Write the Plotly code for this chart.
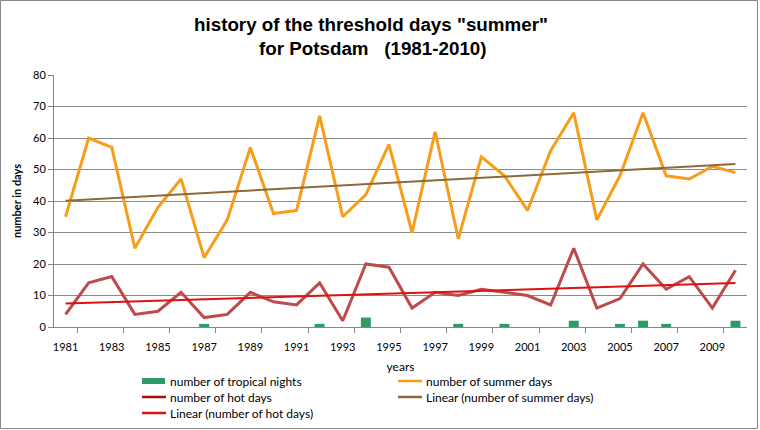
import numpy as np
import plotly.graph_objects as go

years = list(range(1981, 2011))
summer_days = [35, 60, 57, 25, 38, 47, 22, 34, 57, 36, 37, 67, 35, 42, 58,
               30, 62, 28, 54, 48, 37, 56, 68, 34, 48, 68, 48, 47, 51, 49]
hot_days = [4, 14, 16, 4, 5, 11, 3, 4, 11, 8, 7, 14, 2, 20, 19,
            6, 11, 10, 12, 11, 10, 7, 25, 6, 9, 20, 12, 16, 6, 18]
tropical_nights = [0, 0, 0, 0, 0, 0, 1, 0, 0, 0, 0, 1, 0, 3, 0,
                   0, 0, 1, 0, 1, 0, 0, 2, 0, 1, 2, 1, 0, 0, 2]
x_tick_labels = [str(y) for y in range(1981, 2011, 2)]
y_ticks = list(range(0, 81, 10))
legend_names = ["number of tropical nights", "number of summer days", "number of hot days",
                "Linear (number of summer days)", "Linear (number of hot days)"]

x = np.array(years, dtype=float)
s_fit = np.polyval(np.polyfit(x, summer_days, 1), x)
h_fit = np.polyval(np.polyfit(x, hot_days, 1), x)

tick_font = dict(family="Lato", size=11, color="#000000")
GREEN = "#2E9A66"
ORANGE = "#F79D1A"
HOT = "#BE4A4C"
LSUM = "#8C6A3A"
LHOT = "#DD1111"

fig = go.Figure()
fig.add_trace(go.Bar(x=years, y=tropical_nights, name=legend_names[0],
                     marker=dict(color=GREEN, line=dict(width=0)), width=0.43))
fig.add_trace(go.Scatter(x=years, y=summer_days, name=legend_names[1], mode="lines",
                         line=dict(color=ORANGE, width=3)))
fig.add_trace(go.Scatter(x=years, y=hot_days, name=legend_names[2], mode="lines",
                         line=dict(color=HOT, width=3)))
fig.add_trace(go.Scatter(x=years, y=s_fit, name=legend_names[3], mode="lines",
                         line=dict(color=LSUM, width=2)))
fig.add_trace(go.Scatter(x=years, y=h_fit, name=legend_names[4], mode="lines",
                         line=dict(color=LHOT, width=2)))

L, R, T, B = 54, 13, 75, 103
W, H = 760, 430
pw, ph = W - L - R, H - T - B

def px_x(p):
    return (p - L) / pw

def px_y(p):
    return (H - B - p) / ph

title_font = dict(family="Liberation Sans", size=18.8, color="#000000", weight="bold")
legend_font = dict(family="Lato", size=12, color="#000000")

annotations = [
    dict(text="history of the threshold days \"summer\"", xref="paper", yref="paper",
         x=px_x(371), y=px_y(24), xanchor="center", yanchor="middle", showarrow=False,
         font=title_font),
    dict(text="for Potsdam   (1981-2010)", xref="paper", yref="paper",
         x=px_x(373), y=px_y(49), xanchor="center", yanchor="middle", showarrow=False,
         font=title_font),
]
shapes = [dict(type="rect", xref="paper", yref="paper",
               x0=px_x(0.5), x1=px_x(757.5), y0=px_y(428.5), y1=px_y(0.5),
               line=dict(color="#868686", width=1), layer="below")]

# manual legend (two columns)
leg_items = [
    (legend_names[0], GREEN, "rect", 142, 381),
    (legend_names[1], ORANGE, "line", 398, 381),
    (legend_names[2], "#A01010", "line", 142, 397),
    (legend_names[3], LSUM, "line", 398, 397),
    (legend_names[4], LHOT, "line", 142, 413),
]
for name, col, kind, lx, ly in leg_items:
    if kind == "rect":
        shapes.append(dict(type="rect", xref="paper", yref="paper",
                           x0=px_x(lx), x1=px_x(lx + 23), y0=px_y(ly + 3), y1=px_y(ly - 3),
                           fillcolor=col, line=dict(width=0)))
    else:
        shapes.append(dict(type="line", xref="paper", yref="paper",
                           x0=px_x(lx), x1=px_x(lx + 24), y0=px_y(ly), y1=px_y(ly),
                           line=dict(color=col, width=2.5)))
    annotations.append(dict(text=name, xref="paper", yref="paper",
                            x=px_x(lx + 26), y=px_y(ly), xanchor="left", yanchor="middle",
                            showarrow=False, font=legend_font))

fig.update_layout(
    width=W, height=H,
    margin=dict(l=L, r=R, t=T, b=B, pad=0, autoexpand=False),
    paper_bgcolor="white", plot_bgcolor="white",
    showlegend=False,
    xaxis=dict(range=[1980.5, 2010.5], tickvals=list(range(1981, 2011, 2)), ticktext=x_tick_labels,
               ticks="", showgrid=False, zeroline=False, showline=True, linecolor="#868686",
               linewidth=1, tickfont=tick_font, automargin=False, ticklabelstandoff=10,
               minor=dict(tick0=1981.5, dtick=2, ticks="outside", ticklen=5, tickcolor="#868686",
                          showgrid=False),
               title=dict(text="years", font=dict(family="Lato", size=12, color="#000000"), standoff=10)),
    yaxis=dict(range=[0, 80], tickvals=y_ticks, ticks="outside", ticklen=5, tickcolor="#868686",
               showgrid=True, gridcolor="#8A8A8A", gridwidth=1, zeroline=False, automargin=False,
               showline=True, linecolor="#868686", linewidth=1, tickfont=tick_font,
               title=dict(text="number in days",
                          font=dict(family="Lato", size=11, color="#000000", weight="bold"), standoff=9)),
    annotations=annotations,
    shapes=shapes,
)

fig.write_html("out.html")
